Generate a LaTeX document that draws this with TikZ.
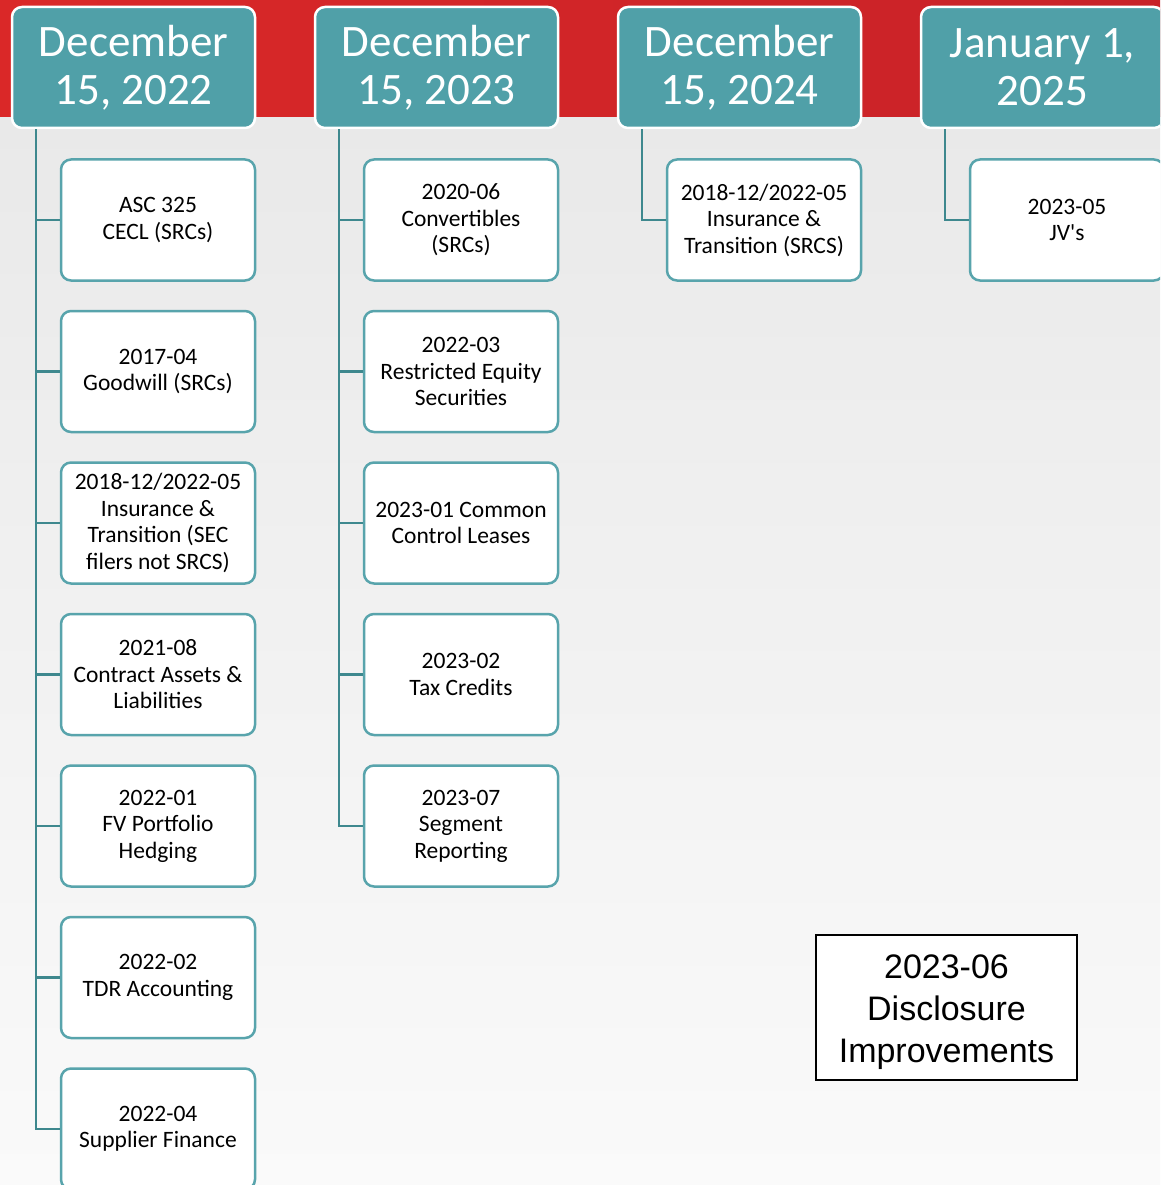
\documentclass[tikz,border=0pt]{standalone}
\usepackage{fontspec}
\setmainfont{Carlito}
\newfontfamily\arialf{Liberation Sans}
\definecolor{bandred}{RGB}{218,40,40}
\definecolor{bandred2}{RGB}{200,34,40}
\definecolor{hdrteal}{RGB}{80,160,168}
\definecolor{lineteal}{RGB}{62,136,142}
\definecolor{boxteal}{RGB}{88,164,172}
\definecolor{bgtop}{RGB}{233,233,233}
\definecolor{bgbot}{RGB}{250,250,250}
\begin{document}
\begin{tikzpicture}[x=1pt,y=-1pt,
 hdr/.style={draw=white, line width=2.5pt, fill=hdrteal, rounded corners=10pt, minimum width=243pt, minimum height=121pt, inner sep=0pt, align=center, text=white, font=\fontsize{45}{48}\selectfont},
 itembox/.style={draw=boxteal, line width=2.5pt, fill=white, rounded corners=10pt, minimum width=194pt, minimum height=121pt, inner sep=0pt, align=center, font=\fontsize{23.5}{26.5}\selectfont},
 conn/.style={draw=lineteal, line width=2.5pt},
 notebox/.style={draw=black, line width=1.2pt, fill=white, minimum width=261pt, minimum height=145pt, inner sep=0pt},
 notetext/.style={inner sep=0pt, align=center, font=\arialf\fontsize{34}{42}\selectfont}]
\useasboundingbox (0,0) rectangle (1160,1185);
\clip (0,0) rectangle (1160,1185);
\shade[top color=bgtop, bottom color=bgbot] (0,117) rectangle (1160,1185);
\shade[left color=bandred, right color=bandred2] (0,0) rectangle (1160,117);

% headers
\node[hdr] (h1) at (133.5,67.5) {December\\15, 2022};
\node[hdr] (h2) at (436.5,67.5) {December\\15, 2023};
\node[hdr] (h3) at (739.5,67.5) {December\\15, 2024};
\node[hdr] (h4) at (1042.5,67.5) {January 1,\\2025};

% column 1
\node[itembox] (a1) at (158,220) {ASC 325\\CECL (SRCs)};
\node[itembox] (a2) at (158,371.5) {2017-04\\Goodwill (SRCs)};
\node[itembox] (a3) at (158,523) {2018-12/2022-05\\Insurance \&\\Transition (SEC\\filers not SRCS)};
\node[itembox] (a4) at (158,674.5) {2021-08\\Contract Assets \&\\Liabilities};
\node[itembox] (a5) at (158,826) {2022-01\\FV Portfolio\\Hedging};
\node[itembox] (a6) at (158,977.5) {2022-02\\TDR Accounting};
\node[itembox] (a7) at (158,1129) {2022-04\\Supplier Finance};

% column 2
\node[itembox] (b1) at (461,220) {2020-06\\Convertibles\\(SRCs)};
\node[itembox] (b2) at (461,371.5) {2022-03\\Restricted Equity\\Securities};
\node[itembox] (b3) at (461,523) {2023-01 Common\\Control Leases};
\node[itembox] (b4) at (461,674.5) {2023-02\\Tax Credits};
\node[itembox] (b5) at (461,826) {2023-07\\Segment\\Reporting};

% column 3 and 4
\node[itembox] (c1) at (764,220) {2018-12/2022-05\\Insurance \&\\Transition (SRCS)};
\node[itembox] (d1) at (1067,220) {2023-05\\JV\textquotesingle s};

% connectors
\foreach \n in {a1,a2,a3,a4,a5,a6,a7}
  \draw[conn] ([xshift=25pt]h1.south west) |- (\n.west);
\foreach \n in {b1,b2,b3,b4,b5}
  \draw[conn] ([xshift=25pt]h2.south west) |- (\n.west);
\draw[conn] ([xshift=25pt]h3.south west) |- (c1.west);
\draw[conn] ([xshift=25pt]h4.south west) |- (d1.west);

% note
\node[notebox] (note) at (946.5,1007.5) {};
\node[notetext] (notetxt) at ([yshift=-5pt]note.center) {2023-06\\Disclosure\\Improvements};
\end{tikzpicture}
\end{document}
